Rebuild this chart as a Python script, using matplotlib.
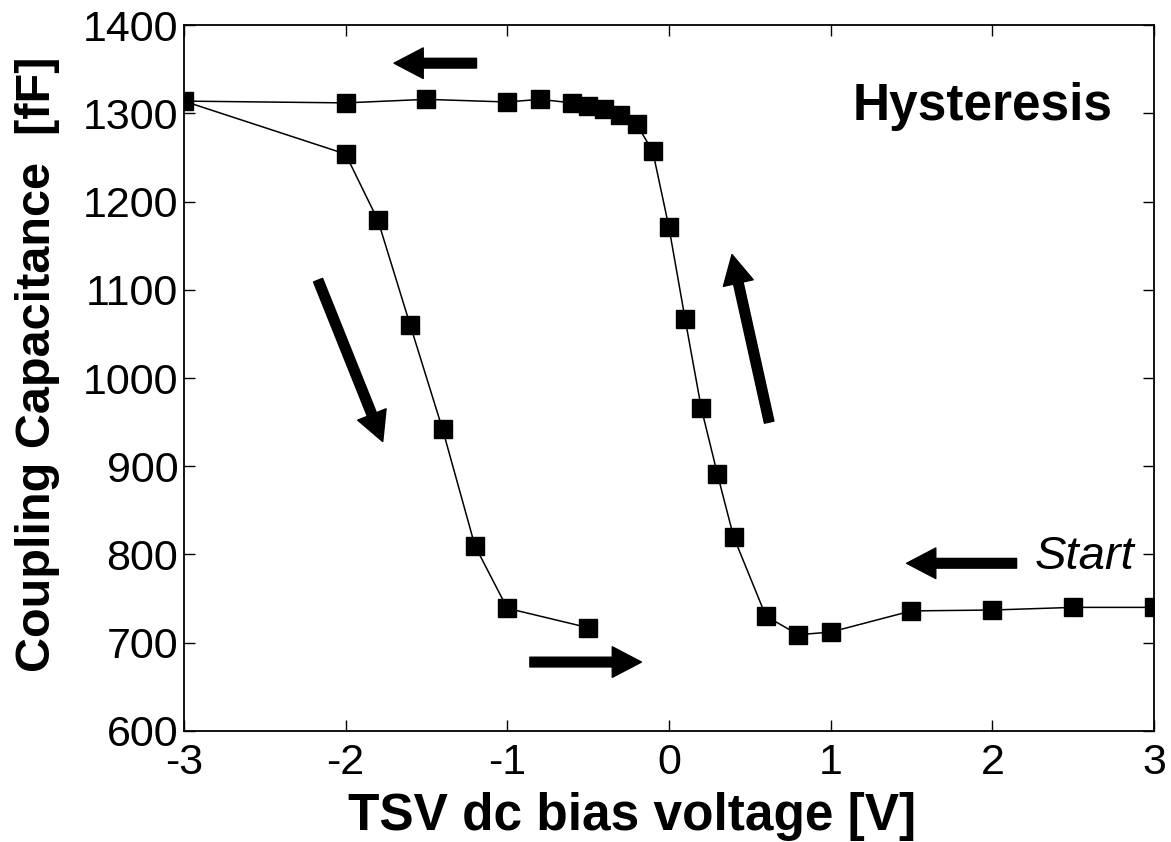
import numpy as np
import matplotlib.pyplot as plt

plt.rcParams['font.family'] = ['Liberation Sans', 'DejaVu Sans']
plt.rcParams['axes.unicode_minus'] = False

# measured sweep, in plotting order: start at +3 V, go down to -3 V, back up to -0.5 V
bias = [3, 2.5, 2, 1.5, 1, 0.8, 0.6, 0.4, 0.3, 0.2, 0.1, 0, -0.1, -0.2, -0.3,
        -0.4, -0.5, -0.6, -0.8, -1, -1.5, -2, -3,
        -2, -1.8, -1.6, -1.4, -1.2, -1, -0.5]
cap = [740, 740, 737, 736, 712, 709, 730, 820, 891, 966, 1067, 1171, 1257, 1288, 1298,
       1305, 1308, 1312, 1316, 1313, 1316, 1312, 1314,
       1254, 1179, 1060, 942, 810, 739, 717]

# sweep direction arrows: (tail, head)
arrows = [((-1.19, 1357), (-1.70, 1357)),
          ((-2.17, 1111), (-1.77, 928)),
          ((0.62, 950), (0.39, 1140)),
          ((-0.86, 678), (-0.17, 678)),
          ((2.15, 790), (1.47, 790))]

fig = plt.figure(figsize=(11.71, 8.42), dpi=100)
ax = fig.add_axes([0.157, 0.132, 0.8285, 0.838])

ax.plot(bias, cap, color='black', lw=1.1, marker='s', ms=12.5, mfc='black', mec='black')

for tail, head in arrows:
    ax.annotate('', xy=head, xytext=tail,
                arrowprops=dict(facecolor='black', edgecolor='black', width=7,
                                headwidth=22, headlength=21, shrink=0))

ax.text(1.94, 1308, 'Hysteresis', fontsize=37, fontweight='bold', ha='center', va='center')
ax.text(2.26, 797, 'Start', fontsize=34, style='italic', ha='left', va='center')

ax.set_xlim(-3, 3)
ax.set_ylim(600, 1400)
ax.set_xticks([-3, -2, -1, 0, 1, 2, 3])
ax.set_yticks(np.arange(600, 1401, 100))
ax.tick_params(direction='in', length=8, width=1, top=True, right=True, labelsize=31)
ax.tick_params(axis='y', pad=4)
ax.tick_params(axis='x', pad=9)
for s in ax.spines.values():
    s.set_linewidth(1.3)

ax.set_xlabel('TSV dc bias voltage [V]', fontsize=37, fontweight='bold')
ax.set_ylabel('Coupling Capacitance  [fF]', fontsize=35, fontweight='bold')
ax.xaxis.set_label_coords(0.462, -0.140, transform=ax.transAxes)
ax.xaxis.label.set_va('baseline')
ax.yaxis.set_label_coords(-0.151, 0.52, transform=ax.transAxes)
ax.yaxis.label.set_va('center')

fig.savefig('out.png', dpi=100)
